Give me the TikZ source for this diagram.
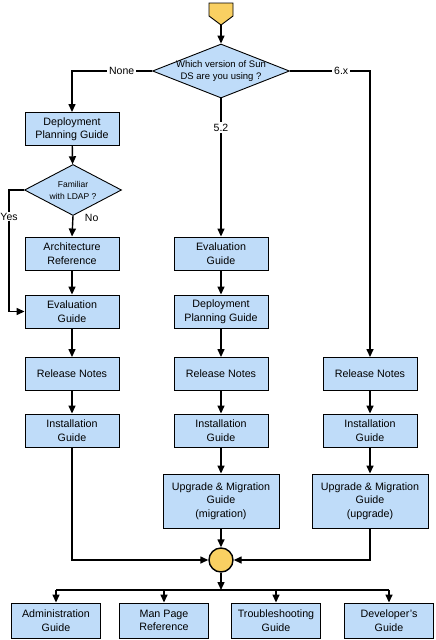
\documentclass[tikz,border=0pt]{standalone}
\usepackage{fontspec}
\setmainfont{Liberation Sans}
\usetikzlibrary{shapes.geometric,arrows.meta}
\definecolor{boxblue}{RGB}{191,220,249}
\definecolor{dotyellow}{RGB}{249,208,98}

\begin{document}
\begin{tikzpicture}[x=1pt,y=-1pt,
  doc/.style={draw,line width=0.9pt,fill=boxblue,minimum width=94pt,minimum height=33pt,inner sep=0pt,align=center,font=\fontsize{10.7}{13.5}\selectfont},
  bigdoc/.style={doc,minimum width=116pt,minimum height=54pt},
  enddoc/.style={doc,minimum width=89pt,minimum height=35pt},
  ask/.style={draw,diamond,line width=0.9pt,fill=boxblue,inner sep=0pt},
  asktext/.style={align=center,inner sep=0pt},
  arr/.style={line width=1.4pt,-{Triangle[length=8pt,width=7pt]}},
  ln/.style={line width=1.4pt},
  lbl/.style={fill=white,inner sep=2pt,font=\fontsize{10.5}{12}\selectfont}]
\useasboundingbox (0,0) rectangle (436,640);
\filldraw[fill=dotyellow,line width=0.9pt] (209,3) -- (233,3) -- (233,16) -- (221,25) -- (209,16) -- cycle;
\coordinate (start) at (221,25);
\node[ask,minimum width=137pt,minimum height=54pt] (sunds) at (221,71) {};
\node[asktext,font=\fontsize{9.5}{12.5}\selectfont] (sundstext) at (sunds) {Which version of Sun\\DS are you using ?};
\node[doc] (dpgA) at (72,129) {Deployment\\Planning Guide};
\node[ask,minimum width=97pt,minimum height=51pt] (ldap) at (73,190) {};
\node[asktext,font=\fontsize{8.5}{12}\selectfont] (ldaptext) at (ldap) {Familiar\\with LDAP ?};
\node[doc] (arch) at (72,253.5) {Architecture\\Reference};
\node[doc] (evalA) at (72,311.5) {Evaluation\\Guide};
\node[doc] (relA) at (72,374) {Release Notes};
\node[doc] (instA) at (72,430.5) {Installation\\Guide};
\node[doc] (evalB) at (221,253.5) {Evaluation\\Guide};
\node[doc] (dpgB) at (221,311.5) {Deployment\\Planning Guide};
\node[doc] (relB) at (221,374) {Release Notes};
\node[doc] (instB) at (221,430.5) {Installation\\Guide};
\node[bigdoc] (upgB) at (221,501) {Upgrade \& Migration\\Guide\\(migration)};
\node[doc] (relC) at (370,374) {Release Notes};
\node[doc] (instC) at (370,430.5) {Installation\\Guide};
\node[bigdoc] (upgC) at (370,501) {Upgrade \& Migration\\Guide\\(upgrade)};
\node[circle,draw,line width=1.4pt,fill=dotyellow,minimum size=24pt,inner sep=0pt] (merge) at (221,560) {};
\coordinate (split) at (221,590);
\node[enddoc] (admin) at (56,620.5) {Administration\\Guide};
\node[enddoc] (man) at (164,620.5) {Man Page\\Reference};
\node[enddoc] (trouble) at (276,620.5) {Troubleshooting\\Guide};
\node[enddoc] (dev) at (389,620.5) {Developer's\\Guide};
\draw[arr] (start) -- (sunds.north);
\draw[arr] (sunds.west) -- node[lbl,pos=0.38] {None} (dpgA.north |- sunds.west) -- (dpgA.north);
\draw[arr] (sunds.east) -- node[lbl,pos=0.64] {6.x} (relC.north |- sunds.east) -- (relC.north);
\draw[arr] (sunds.south) -- node[lbl,pos=0.21] {5.2} (evalB.north);
\draw[arr] (dpgA) -- (ldap);
\draw[arr] (ldap.south) -- node[right=8pt,pos=0.1,font=\fontsize{10.5}{12}\selectfont] {No} (arch.north);
\draw[arr] (ldap.west) -- ++(-15,0) |- node[lbl,pos=0.11,inner sep=1pt] {Yes} (evalA.west);
\draw[arr] (arch) -- (evalA);
\draw[arr] (evalA) -- (relA);
\draw[arr] (relA) -- (instA);
\draw[arr] (evalB) -- (dpgB);
\draw[arr] (dpgB) -- (relB);
\draw[arr] (relB) -- (instB);
\draw[arr] (instB) -- (upgB);
\draw[arr] (relC) -- (instC);
\draw[arr] (instC) -- (upgC);
\draw[arr] (instA.south) |- (merge.west);
\draw[arr] (upgC.south) |- (merge.east);
\draw[arr] (upgB.south) -- (merge.north);
\draw[arr] (merge.south) -- (split);
\draw[ln] (admin.north |- split) -- (dev.north |- split);
\foreach \b in {admin,man,trouble,dev}
  \draw[arr] (\b.north |- split) -- (\b.north);
\end{tikzpicture}
\end{document}
